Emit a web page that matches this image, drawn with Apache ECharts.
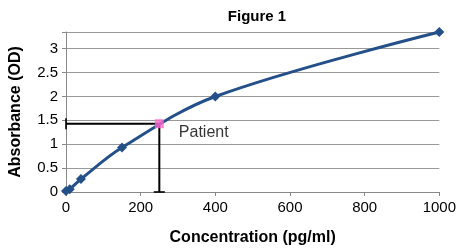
<!DOCTYPE html>
<html>
<head>
<meta charset="utf-8">
<script src="https://cdn.jsdelivr.net/npm/echarts@6/dist/echarts.min.js"></script>
<style>
  html, body { margin: 0; padding: 0; background: #fff; }
  #chart { width: 459px; height: 251px; }
</style>
</head>
<body>
<div id="chart"></div>
<script>
// standard curve
const concentration = [0, 10, 40, 150, 400, 1000]
const absorbance = [0.02, 0.06, 0.27, 0.93, 2.0, 3.35]

// patient reading
const patientConc = 250
const patientAbs = 1.43

const xTicks = [0, 200, 400, 600, 800, 1000]
const yTicks = [0, 0.5, 1, 1.5, 2, 2.5, 3]

const font = 'Liberation Sans, Arial, sans-serif'
const blue = '#24508A'

const chart = echarts.init(document.getElementById('chart'), null, { renderer: 'canvas' })

const option = {
  animation: false,
  title: {
    text: 'Figure 1',
    left: 252,
    textAlign: 'center',
    top: 4,
    textStyle: { fontFamily: font, fontSize: 15, fontWeight: 'bold', color: '#000' }
  },
  grid: { left: 65, right: 19, top: 32, bottom: 58 },
  xAxis: {
    type: 'value',
    min: 0,
    max: 1000,
    interval: 200,
    name: 'Concentration (pg/ml)',
    nameLocation: 'middle',
    nameGap: 38,
    nameTextStyle: { fontFamily: font, fontSize: 16, fontWeight: 'bold', color: '#000' },
    axisLine: { lineStyle: { color: '#888', width: 1 } },
    axisTick: { show: true, length: 4, lineStyle: { color: '#888' } },
    axisLabel: {
      fontFamily: font, fontSize: 15, color: '#000', margin: 8,
      formatter: v => xTicks.includes(v) ? String(v) : ''
    },
    splitLine: { show: false }
  },
  yAxis: {
    type: 'value',
    min: 0,
    max: 3.35,
    interval: 0.5,
    name: 'Absorbance (OD)',
    nameLocation: 'middle',
    nameGap: 42,
    nameTextStyle: { fontFamily: font, fontSize: 16, fontWeight: 'bold', color: '#000' },
    axisLine: { show: true, lineStyle: { color: '#888', width: 1 } },
    axisTick: { show: true, length: 4, lineStyle: { color: '#888' } },
    axisLabel: {
      fontFamily: font, fontSize: 15, color: '#000', margin: 8,
      formatter: v => yTicks.includes(+v.toFixed(2)) ? String(+v.toFixed(2)) : ''
    },
    splitLine: { show: true, lineStyle: { color: '#999', width: 1 } }
  },
  series: [
    {
      type: 'line',
      data: [[0, patientAbs], [patientConc, patientAbs]],
      symbol: 'none',
      lineStyle: { color: '#000', width: 2 },
      z: 2
    },
    {
      type: 'line',
      data: [[patientConc, patientAbs], [patientConc, 0]],
      symbol: 'none',
      lineStyle: { color: '#000', width: 2 },
      z: 2
    },
    {
      type: 'scatter',
      data: [[0, patientAbs]],
      symbol: 'rect',
      symbolSize: [2, 11],
      itemStyle: { color: '#000' },
      z: 2
    },
    {
      type: 'scatter',
      data: [[patientConc, 0]],
      symbol: 'rect',
      symbolSize: [11, 2],
      itemStyle: { color: '#000' },
      z: 2
    },
    {
      type: 'line',
      data: concentration.map((c, i) => [c, absorbance[i]]),
      smooth: 0.35,
      symbol: 'diamond',
      symbolSize: 10,
      showAllSymbol: true,
      lineStyle: { color: blue, width: 3 },
      itemStyle: { color: blue, borderWidth: 0 },
      z: 3
    },
    {
      type: 'scatter',
      data: [[patientConc, patientAbs]],
      symbol: 'rect',
      symbolSize: 9,
      itemStyle: { color: '#FF66CC' },
      label: {
        show: true,
        position: 'right',
        offset: [10, 9],
        formatter: 'Patient',
        fontFamily: font,
        fontSize: 16,
        color: '#000'
      },
      z: 4
    }
  ]
}

chart.setOption(option)
</script>
</body>
</html>
